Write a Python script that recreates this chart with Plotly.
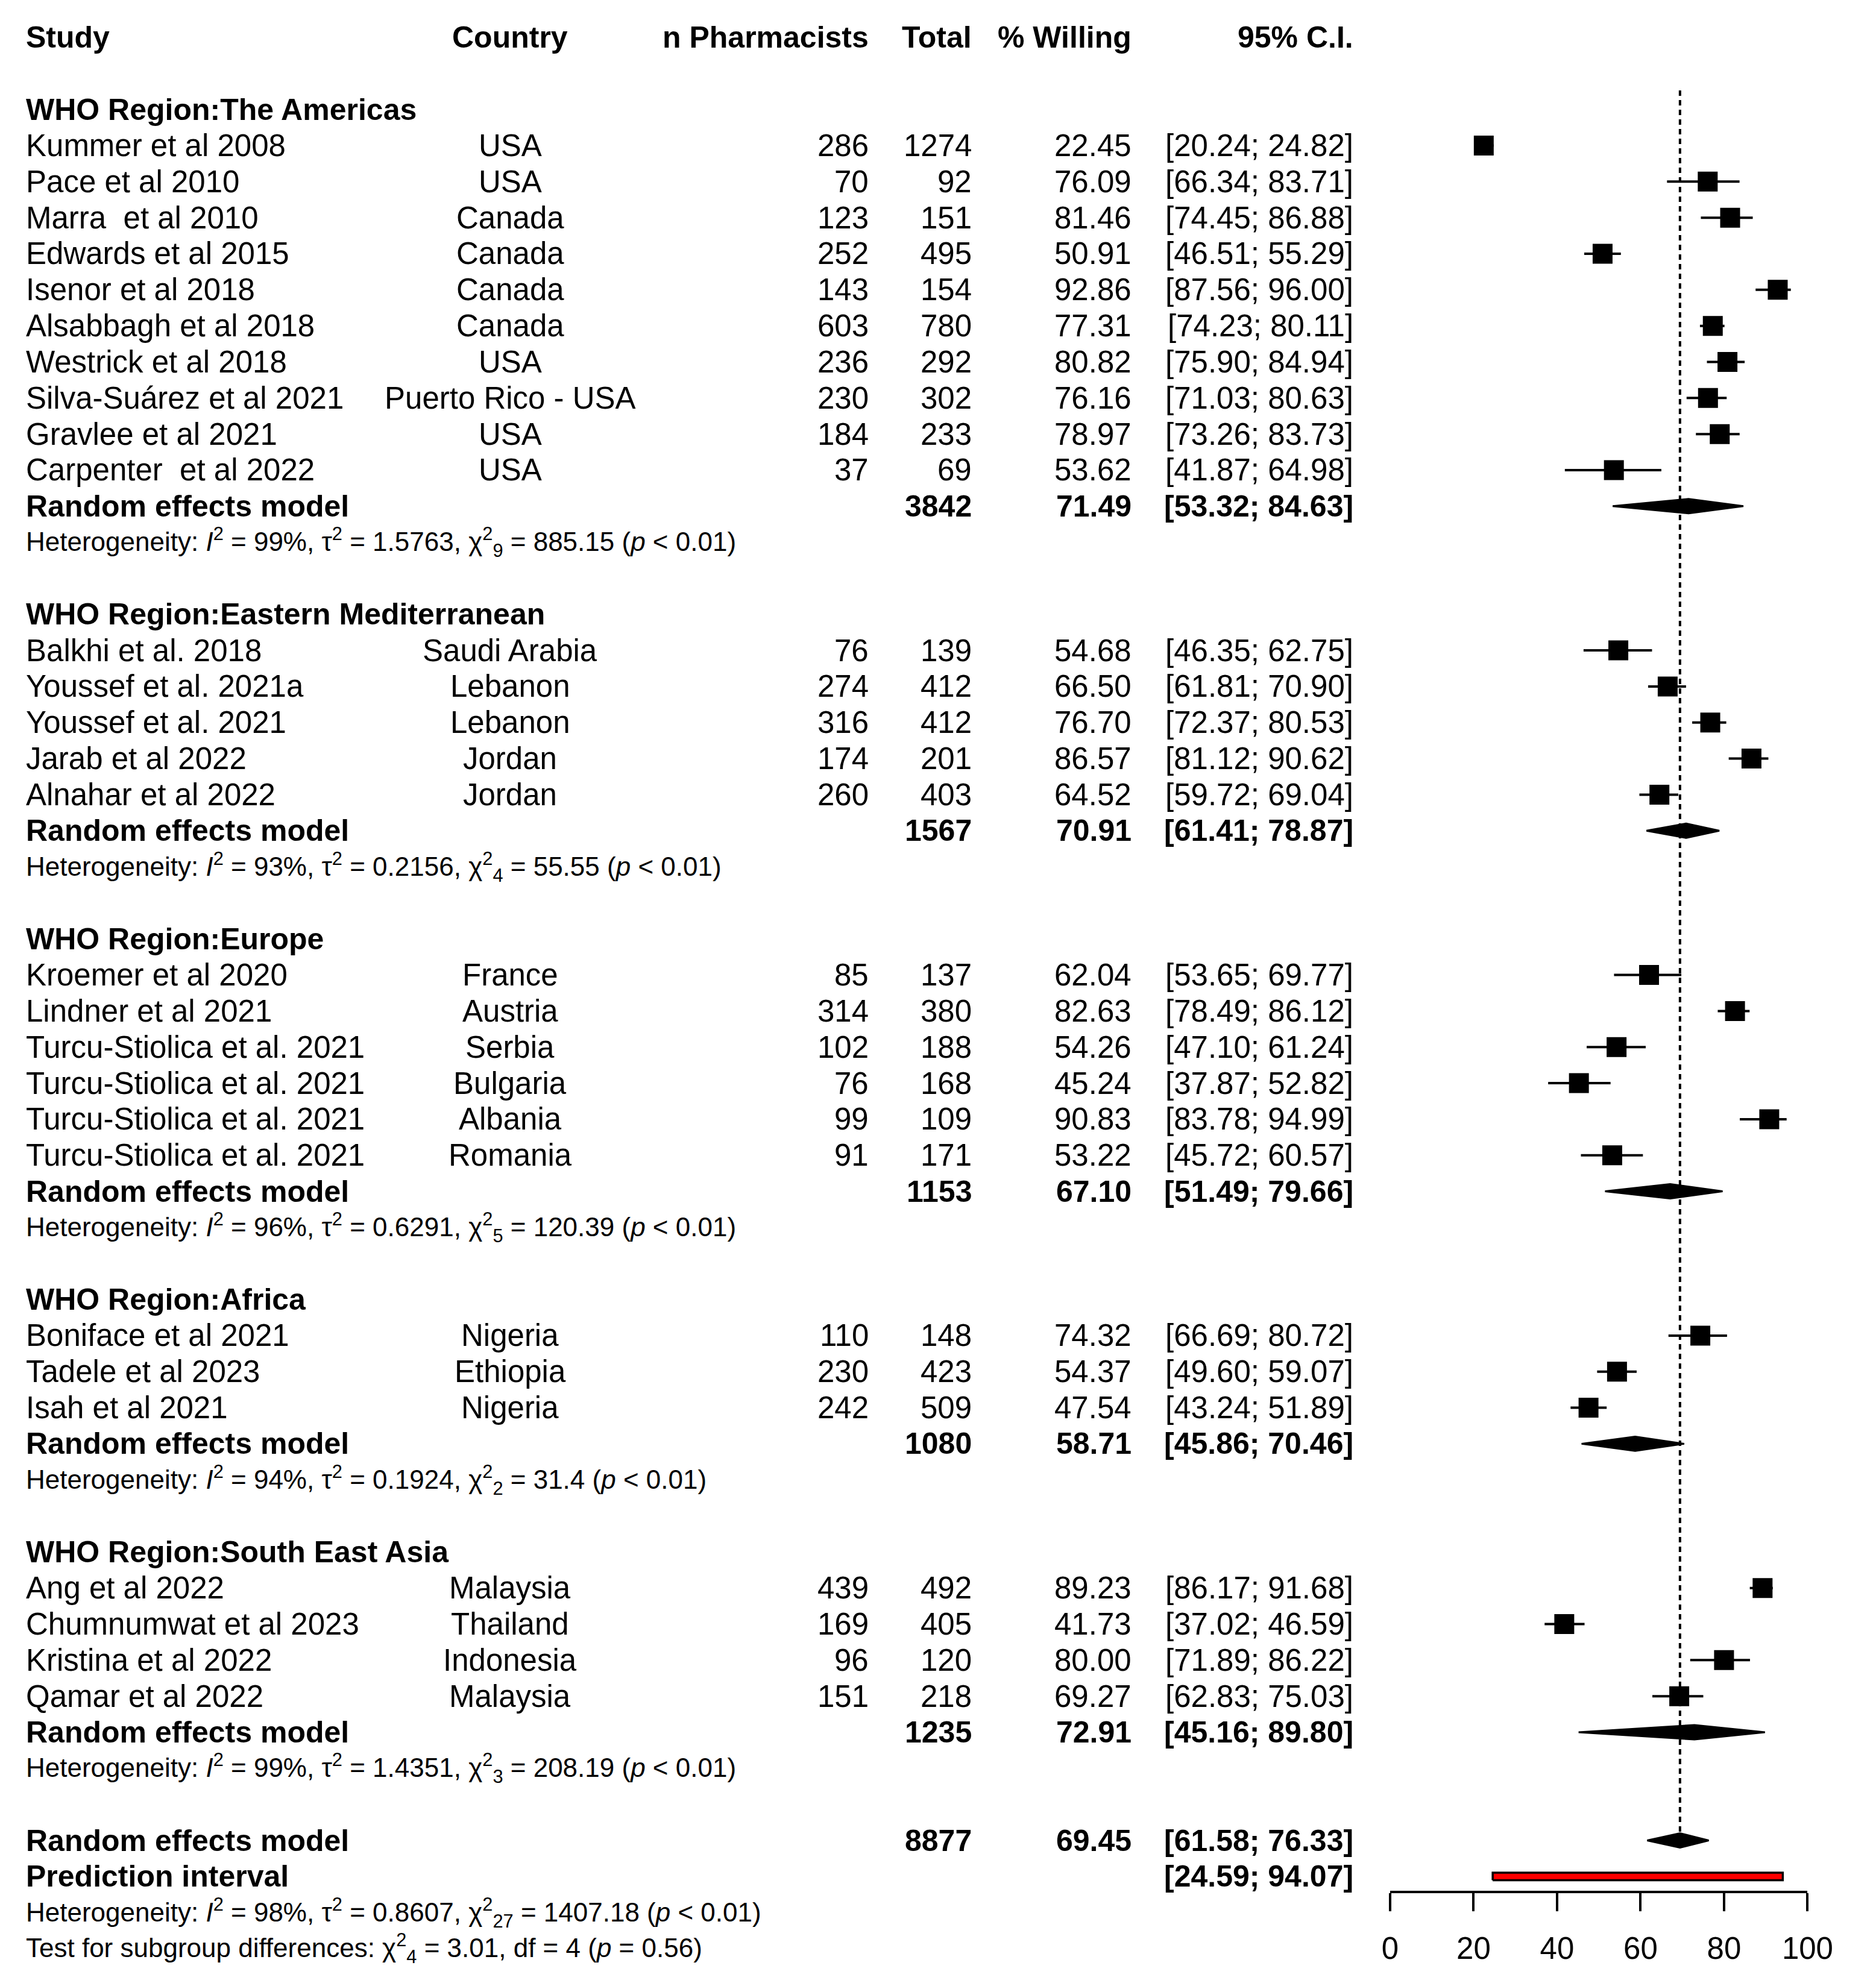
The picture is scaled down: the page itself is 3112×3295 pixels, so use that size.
import plotly.graph_objects as go

FONT = "Liberation Sans, Arial, Helvetica, sans-serif"

# ---------------- data ----------------
region_names = ["The Americas", "Eastern Mediterranean", "Europe", "Africa", "South East Asia"]

study = [
    "Kummer et al 2008", "Pace et al 2010", "Marra\u00a0 et al 2010", "Edwards et al 2015",
    "Isenor et al 2018", "Alsabbagh et al 2018", "Westrick et al 2018", "Silva-Suárez et al 2021",
    "Gravlee et al 2021", "Carpenter\u00a0 et al 2022",
    "Balkhi et al. 2018", "Youssef et al. 2021a", "Youssef et al. 2021", "Jarab et al 2022",
    "Alnahar et al 2022",
    "Kroemer et al 2020", "Lindner et al 2021", "Turcu-Stiolica et al. 2021",
    "Turcu-Stiolica et al. 2021", "Turcu-Stiolica et al. 2021", "Turcu-Stiolica et al. 2021",
    "Boniface et al 2021", "Tadele et al 2023", "Isah et al 2021",
    "Ang et al 2022", "Chumnumwat et al 2023", "Kristina et al 2022", "Qamar et al 2022",
]
country = [
    "USA", "USA", "Canada", "Canada", "Canada", "Canada", "USA", "Puerto Rico - USA", "USA", "USA",
    "Saudi Arabia", "Lebanon", "Lebanon", "Jordan", "Jordan",
    "France", "Austria", "Serbia", "Bulgaria", "Albania", "Romania",
    "Nigeria", "Ethiopia", "Nigeria",
    "Malaysia", "Thailand", "Indonesia", "Malaysia",
]
region = [0] * 10 + [1] * 5 + [2] * 6 + [3] * 3 + [4] * 4
n_pharm = [286, 70, 123, 252, 143, 603, 236, 230, 184, 37,
           76, 274, 316, 174, 260,
           85, 314, 102, 76, 99, 91,
           110, 230, 242,
           439, 169, 96, 151]
total = [1274, 92, 151, 495, 154, 780, 292, 302, 233, 69,
         139, 412, 412, 201, 403,
         137, 380, 188, 168, 109, 171,
         148, 423, 509,
         492, 405, 120, 218]
pct = [22.45, 76.09, 81.46, 50.91, 92.86, 77.31, 80.82, 76.16, 78.97, 53.62,
       54.68, 66.50, 76.70, 86.57, 64.52,
       62.04, 82.63, 54.26, 45.24, 90.83, 53.22,
       74.32, 54.37, 47.54,
       89.23, 41.73, 80.00, 69.27]
ci_lo = [20.24, 66.34, 74.45, 46.51, 87.56, 74.23, 75.90, 71.03, 73.26, 41.87,
         46.35, 61.81, 72.37, 81.12, 59.72,
         53.65, 78.49, 47.10, 37.87, 83.78, 45.72,
         66.69, 49.60, 43.24,
         86.17, 37.02, 71.89, 62.83]
ci_hi = [24.82, 83.71, 86.88, 55.29, 96.00, 80.11, 84.94, 80.63, 83.73, 64.98,
         62.75, 70.90, 80.53, 90.62, 69.04,
         69.77, 86.12, 61.24, 52.82, 94.99, 60.57,
         80.72, 59.07, 51.89,
         91.68, 46.59, 86.22, 75.03]

sub_total = [3842, 1567, 1153, 1080, 1235]
sub_pct = [71.49, 70.91, 67.10, 58.71, 72.91]
sub_lo = [53.32, 61.41, 51.49, 45.86, 45.16]
sub_hi = [84.63, 78.87, 79.66, 70.46, 89.80]
sub_i2 = [99, 93, 96, 94, 99]
sub_tau2 = [1.5763, 0.2156, 0.6291, 0.1924, 1.4351]
sub_df = [9, 4, 5, 2, 3]
sub_q = [885.15, 55.55, 120.39, 31.4, 208.19]

overall_total = 8877
overall_pct = 69.45
overall_lo = 61.58
overall_hi = 76.33
pred_lo = 24.59
pred_hi = 94.07
overall_i2 = 98
overall_tau2 = 0.8607
overall_df = 27
overall_q = 1407.18
subgroup_q = 3.01
subgroup_df = 4
subgroup_p = 0.56

axis_ticks = [0, 20, 40, 60, 80, 100]
column_headers = ["Study", "Country", "n Pharmacists", "Total", "% Willing", "95% C.I."]

# ---------------- layout constants ----------------
W, H = 3112, 3295
ROW0_PX = 62.0
ROW_PX = 59.83
Y_TOP = ROW0_PX / ROW_PX
Y_BOT = -(H - ROW0_PX) / ROW_PX

X_STUDY = 0.0090
X_COUNTRY = 0.2725
X_N = 0.4677
X_TOTAL = 0.5237
X_PCT = 0.6104
X_CI = 0.7310

FS_ROW = 51
FS_BOLD = 50
FS_HET = 44
FS_TICK = 51

annotations = []


def txt(x, y, s, anchor="left", size=FS_ROW, bold=False):
    if bold:
        s = "<b>" + s + "</b>"
        size = FS_BOLD
    annotations.append(dict(
        x=x, y=y, xref="paper", yref="y", text=s, showarrow=False,
        xanchor=anchor, yanchor="middle",
        font=dict(family=FONT, size=size, color="black"),
    ))


def het_text(i2, tau2, df, q):
    return ("Heterogeneity: <i>I</i><sup>2</sup> = %d%%, τ<sup>2</sup> = %.4f, "
            "χ<sup>2</sup><sub>%d</sub> = %s (<i>p</i> &lt; 0.01)" % (i2, tau2, df, f"{q:g}"))


# header
hx = [X_STUDY, X_COUNTRY, X_N, X_TOTAL, X_PCT, X_CI]
ha = ["left", "center", "right", "right", "right", "right"]
for x, s, a in zip(hx, column_headers, ha):
    txt(x, 0, s, a, bold=True)

row = 2
sq_x, sq_y = [], []
eb_x, eb_y = [], []
dia_x, dia_y = [], []
DH = 0.2

for r, rname in enumerate(region_names):
    txt(X_STUDY, -row, "WHO Region:" + rname, bold=True)
    row += 1
    for k in range(len(study)):
        if region[k] != r:
            continue
        y = -row
        txt(X_STUDY, y, study[k])
        txt(X_COUNTRY, y, country[k], "center")
        txt(X_N, y, str(n_pharm[k]), "right")
        txt(X_TOTAL, y, str(total[k]), "right")
        txt(X_PCT, y, "%.2f" % pct[k], "right")
        txt(X_CI, y, "[%.2f; %.2f]" % (ci_lo[k], ci_hi[k]), "right")
        sq_x.append(pct[k]); sq_y.append(y)
        eb_x += [ci_lo[k], ci_hi[k], None]; eb_y += [y, y, None]
        row += 1
    y = -row
    txt(X_STUDY, y, "Random effects model", bold=True)
    txt(X_TOTAL, y, str(sub_total[r]), "right", bold=True)
    txt(X_PCT, y, "%.2f" % sub_pct[r], "right", bold=True)
    txt(X_CI, y, "[%.2f; %.2f]" % (sub_lo[r], sub_hi[r]), "right", bold=True)
    dia_x += [sub_lo[r], sub_pct[r], sub_hi[r], sub_pct[r], sub_lo[r], None]
    dia_y += [y, y + DH, y, y - DH, y, None]
    row += 1
    txt(X_STUDY, -row, het_text(sub_i2[r], sub_tau2[r], sub_df[r], sub_q[r]), size=FS_HET)
    row += 2

# overall
y_ov = -row
txt(X_STUDY, y_ov, "Random effects model", bold=True)
txt(X_TOTAL, y_ov, str(overall_total), "right", bold=True)
txt(X_PCT, y_ov, "%.2f" % overall_pct, "right", bold=True)
txt(X_CI, y_ov, "[%.2f; %.2f]" % (overall_lo, overall_hi), "right", bold=True)
dia_x += [overall_lo, overall_pct, overall_hi, overall_pct, overall_lo, None]
dia_y += [y_ov, y_ov + DH, y_ov, y_ov - DH, y_ov, None]
row += 1
y_pi = -row
txt(X_STUDY, y_pi, "Prediction interval", bold=True)
txt(X_CI, y_pi, "[%.2f; %.2f]" % (pred_lo, pred_hi), "right", bold=True)
row += 1
txt(X_STUDY, -row, het_text(overall_i2, overall_tau2, overall_df, overall_q), size=FS_HET)
row += 1
txt(X_STUDY, -row,
    "Test for subgroup differences: χ<sup>2</sup><sub>%d</sub> = %.2f, df = %d (<i>p</i> = %.2f)"
    % (subgroup_df, subgroup_q, subgroup_df, subgroup_p), size=FS_HET)

fig = go.Figure()

# reference (overall effect) dotted line
fig.add_trace(go.Scatter(
    x=[overall_pct, overall_pct], y=[-1.47, y_ov + DH], mode="lines",
    line=dict(color="black", width=4, dash="9px,7px"), hoverinfo="skip"))

# confidence intervals
fig.add_trace(go.Scatter(
    x=eb_x, y=eb_y, mode="lines", line=dict(color="black", width=4), hoverinfo="skip"))

# study squares
fig.add_trace(go.Scatter(
    x=sq_x, y=sq_y, mode="markers",
    marker=dict(symbol="square", size=33, color="black", line=dict(width=0))))

# pooled diamonds
fig.add_trace(go.Scatter(
    x=dia_x, y=dia_y, mode="lines", fill="toself", fillcolor="black",
    line=dict(color="black", width=3), hoverinfo="skip"))

# prediction interval bar
PH = 0.105
fig.add_trace(go.Scatter(
    x=[pred_lo, pred_hi, pred_hi, pred_lo, pred_lo],
    y=[y_pi - PH, y_pi - PH, y_pi + PH, y_pi + PH, y_pi - PH],
    mode="lines", fill="toself", fillcolor="#FF0000",
    line=dict(color="black", width=3.5), hoverinfo="skip"))

fig.update_layout(
    width=W, height=H,
    margin=dict(l=0, r=0, t=0, b=0),
    paper_bgcolor="white", plot_bgcolor="white",
    showlegend=False,
    annotations=annotations,
    xaxis=dict(
        domain=[0.7502, 0.9769], range=[0, 100], anchor="free", position=0.0473,
        showline=True, linecolor="black", linewidth=4,
        ticks="outside", ticklen=30, tickwidth=4, tickcolor="black",
        tickvals=axis_ticks, ticktext=[str(t) for t in axis_ticks],
        tickfont=dict(family=FONT, size=FS_TICK, color="black"),
        showgrid=False, zeroline=False, ticklabelstandoff=18,
    ),
    yaxis=dict(domain=[0, 1], range=[Y_BOT, Y_TOP], visible=False,
               showgrid=False, zeroline=False),
)

fig.write_html("out.html", config={"displayModeBar": False},
               post_script="document.body.style.margin='0';")
